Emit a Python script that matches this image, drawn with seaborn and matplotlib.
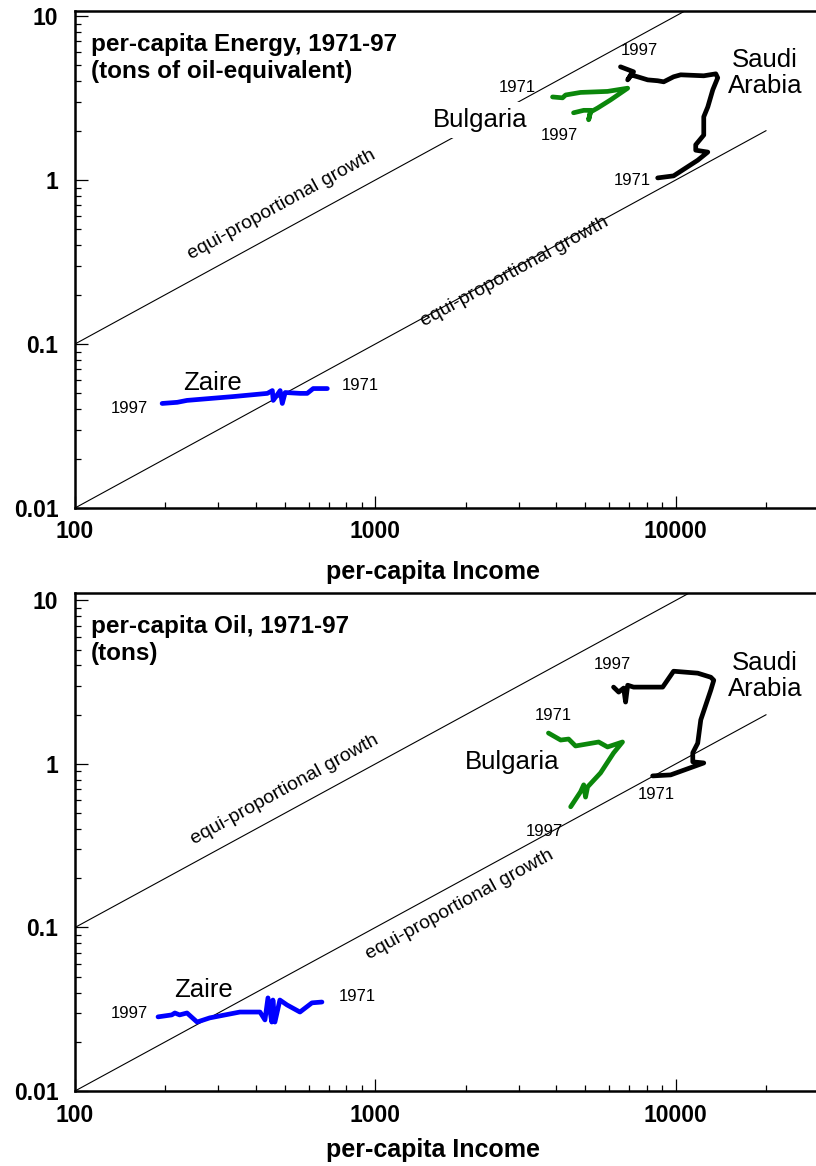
import numpy as np
import pandas as pd
import matplotlib
matplotlib.use("Agg")
import matplotlib.pyplot as plt
import seaborn as sns
from matplotlib.ticker import FixedLocator, FixedFormatter, LogLocator, NullFormatter

# ---------------- data ----------------
# per-capita Energy (tons of oil-equivalent), paths 1971 -> 1997
saudi_e_income = [8710, 9840, 11840, 12790, 11660, 11660, 12400, 12400, 12790, 13290, 13800, 13600,
                  12400, 10390, 9840, 9120, 8710, 8070, 7470, 7080, 6920, 7240, 6550]
saudi_e_value = [1.03, 1.06, 1.32, 1.48, 1.52, 1.64, 1.88, 2.43, 2.79, 3.55, 4.2, 4.44,
                 4.32, 4.38, 4.26, 3.97, 4.03, 4.08, 4.26, 4.38, 4.08, 4.57, 4.9]
bulg_e_income = [3890, 4200, 4300, 4820, 5930, 6920, 6070, 5500, 5210, 5130, 5210, 4940, 4570]
bulg_e_value = [3.21, 3.17, 3.3, 3.42, 3.47, 3.63, 3.08, 2.75, 2.6, 2.33, 2.66, 2.66, 2.57]
zaire_e_income = [692, 621, 593, 562, 501, 490, 482, 457, 454, 437, 336, 261, 236, 219, 195]
zaire_e_value = [0.0535, 0.0535, 0.050, 0.050, 0.0506, 0.0434, 0.052, 0.0453, 0.052, 0.050,
                 0.0478, 0.046, 0.0453, 0.0441, 0.0434]

# per-capita Oil (tons), paths 1971 -> 1997
saudi_o_income = [8380, 9620, 11400, 12400, 11400, 11400, 11840, 12120, 12590, 13090, 13390, 13090,
                  11840, 9840, 9050, 7240, 6920, 6810, 6710, 6460, 6210]
saudi_o_value = [0.845, 0.857, 0.959, 1.014, 1.03, 1.17, 1.34, 1.86, 2.29, 2.83, 3.25, 3.39,
                 3.59, 3.69, 2.95, 2.95, 3.03, 2.39, 2.91, 2.75, 2.95]
bulg_o_income = [3770, 4140, 4400, 4640, 5540, 5930, 6650, 6210, 5620, 5090, 5010, 4940, 4820, 4470]
bulg_o_value = [1.545, 1.40, 1.42, 1.288, 1.362, 1.27, 1.362, 1.167, 0.881, 0.724, 0.627, 0.745,
                0.675, 0.547]
zaire_o_income = [664, 615, 561, 508, 481, 463, 456, 452, 439, 429, 413, 354, 281, 255, 236, 223,
                  215, 210, 189]
zaire_o_value = [0.0350, 0.0346, 0.0304, 0.0336, 0.0360, 0.0264, 0.0360, 0.0264, 0.0371, 0.0272,
                 0.0304, 0.0304, 0.0280, 0.0264, 0.0300, 0.0292, 0.0300, 0.0292, 0.0284]

# equi-proportional growth guide lines (income, value)
guide_upper_x = [100, 100000]
guide_upper_y = [0.1, 100]
guide_lower_x = [100, 20000]
guide_lower_y = [0.01, 2]

x_ticks = [100, 1000, 10000]
x_tick_labels = ["100", "1000", "10000"]
y_ticks = [0.01, 0.1, 1, 10]
y_tick_labels = ["0.01", "0.1", "1", "10"]

palette = {"Saudi Arabia": "black", "Bulgaria": "#0b870b", "Zaire": "#0000ff"}


def make_df(s_x, s_y, b_x, b_y, z_x, z_y):
    frames = []
    for name, xs, ys in [("Saudi Arabia", s_x, s_y), ("Bulgaria", b_x, b_y), ("Zaire", z_x, z_y)]:
        frames.append(pd.DataFrame({"income": xs, "value": ys, "country": name,
                                    "step": np.arange(len(xs))}))
    return pd.concat(frames, ignore_index=True)


energy_df = make_df(saudi_e_income, saudi_e_value, bulg_e_income, bulg_e_value,
                    zaire_e_income, zaire_e_value)
oil_df = make_df(saudi_o_income, saudi_o_value, bulg_o_income, bulg_o_value,
                 zaire_o_income, zaire_o_value)

# ---------------- styling ----------------
sns.set_theme(style="ticks")
plt.rcParams["font.family"] = ["Liberation Sans", "DejaVu Sans"]
for key in ["text.color", "axes.labelcolor", "xtick.color", "ytick.color", "axes.edgecolor"]:
    plt.rcParams[key] = "black"

W, H = 816, 1166
fig = plt.figure(figsize=(W / 100, H / 100), dpi=100)
ax1 = fig.add_axes([75 / W, (H - 508) / H, 744 / W, (508 - 11) / H])
ax2 = fig.add_axes([75 / W, (H - 1091) / H, 744 / W, (1091 - 593) / H])


def style_axes(ax, ytop):
    ax.set_xscale("log")
    ax.set_yscale("log")
    ax.set_xlim(100, 30000)
    ax.set_ylim(0.01, ytop)
    ax.xaxis.set_major_locator(FixedLocator(x_ticks))
    ax.xaxis.set_major_formatter(FixedFormatter(x_tick_labels))
    ax.yaxis.set_major_locator(FixedLocator(y_ticks))
    ax.yaxis.set_major_formatter(FixedFormatter(y_tick_labels))
    ax.xaxis.set_minor_locator(LogLocator(base=10, subs=np.arange(2, 10)))
    ax.yaxis.set_minor_locator(LogLocator(base=10, subs=np.arange(2, 10)))
    ax.xaxis.set_minor_formatter(NullFormatter())
    ax.yaxis.set_minor_formatter(NullFormatter())
    ax.tick_params(which="both", direction="in", top=False, right=False, color="black",
                   labelcolor="black")
    ax.tick_params(which="major", length=9, width=0.9, labelsize=16.5)
    ax.tick_params(axis="x", which="major", pad=9)
    ax.tick_params(axis="y", which="major", pad=12)
    ax.tick_params(which="minor", length=4.5, width=0.9)
    for lab in ax.get_xticklabels() + ax.get_yticklabels():
        lab.set_fontweight("bold")
    for side in ["left", "bottom", "top"]:
        ax.spines[side].set_visible(True)
        ax.spines[side].set_linewidth(1.8)
        ax.spines[side].set_color("black")
    ax.spines["right"].set_visible(False)
    ax.set_xlabel("")
    ax.set_ylabel("")
    ax.grid(False)


def draw_panel(ax, df, ytop, title, labels, equi):
    ax.plot(guide_upper_x, guide_upper_y, color="black", lw=0.8, zorder=1)
    ax.plot(guide_lower_x, guide_lower_y, color="black", lw=0.8, zorder=1)
    sns.lineplot(data=df, x="income", y="value", hue="country", units="country",
                 estimator=None, sort=False, palette=palette, linewidth=3.4,
                 legend=False, ax=ax, zorder=4)
    style_axes(ax, ytop)
    ax.text(0.0215, 0.955, title, transform=ax.transAxes, ha="left", va="top",
            fontsize=17.5, fontweight="bold", linespacing=1.2, color="black")
    for (txt, x, y, size, bg) in labels:
        kw = {}
        if bg:
            kw["bbox"] = dict(facecolor="white", edgecolor="none", pad=4)
        ax.text(x, y, txt, ha="center", va="center", fontsize=size, color="black",
                zorder=3, linespacing=1.15, **kw)
    for (x, y) in equi:
        ax.text(x, y, "equi-proportional growth", ha="center", va="center", fontsize=14,
                rotation=28.7, rotation_mode="anchor", zorder=3, color="black")


draw_panel(ax1, energy_df, 10.73,
           "per-capita Energy, 1971-97\n(tons of oil-equivalent)",
           [("Saudi\nArabia", 19800, 4.49, 18.5, False),
            ("Bulgaria", 2230, 2.32, 18.5, True),
            ("Zaire", 286, 0.0578, 18.5, False),
            ("1997", 7590, 6.2, 12, False),
            ("1971", 7190, 1.0, 12, False),
            ("1971", 2980, 3.64, 12, False),
            ("1997", 4110, 1.88, 12, False),
            ("1997", 152, 0.0407, 12, False),
            ("1971", 888, 0.0562, 12, False)],
           [(489, 0.704), (2910, 0.275)])

draw_panel(ax2, oil_df, 11.1,
           "per-capita Oil, 1971-97\n(tons)",
           [("Saudi\nArabia", 19800, 3.45, 18.5, False),
            ("Bulgaria", 2850, 1.03, 18.5, False),
            ("Zaire", 267, 0.0415, 18.5, False),
            ("1997", 6170, 4.03, 12, False),
            ("1971", 8650, 0.646, 12, False),
            ("1971", 3900, 1.97, 12, False),
            ("1997", 3660, 0.384, 12, False),
            ("1997", 152, 0.0296, 12, False),
            ("1971", 868, 0.0376, 12, False)],
           [(500, 0.693), (1910, 0.137)])

fig.text(433 / W, 1 - 572 / H, "per-capita Income", ha="center", va="center",
         fontsize=18, fontweight="bold", color="black")
fig.text(433 / W, 1 - 1150 / H, "per-capita Income", ha="center", va="center",
         fontsize=18, fontweight="bold", color="black")

fig.savefig("out.png", dpi=100)
